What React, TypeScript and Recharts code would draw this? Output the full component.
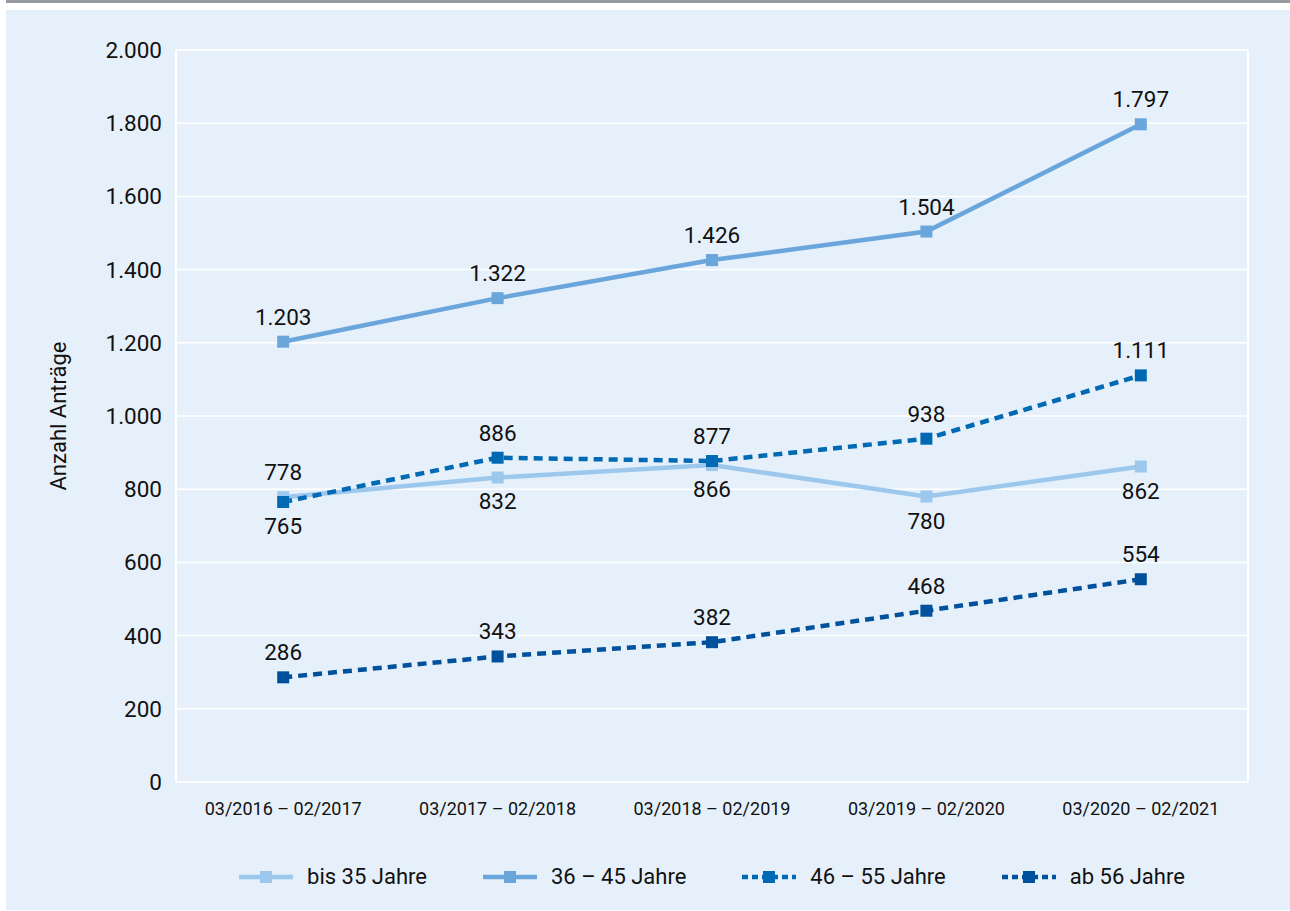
import React from 'react';
import { LineChart, Line, XAxis, YAxis, CartesianGrid, Legend, LabelList } from 'recharts';

const periods = ['03/2016 – 02/2017', '03/2017 – 02/2018', '03/2018 – 02/2019', '03/2019 – 02/2020', '03/2020 – 02/2021'];
const bis35 = [778, 832, 866, 780, 862];
const age36to45 = [1203, 1322, 1426, 1504, 1797];
const age46to55 = [765, 886, 877, 938, 1111];
const ab56 = [286, 343, 382, 468, 554];
const yTicks = [0, 200, 400, 600, 800, 1000, 1200, 1400, 1600, 1800, 2000];

// which value labels sit under their point
const bis35Below = [false, true, true, true, true];
const age46to55Below = [true, false, false, false, false];

const data = periods.map((p, i) => ({
  period: p,
  bis35: bis35[i],
  a3645: age36to45[i],
  a4655: age46to55[i],
  ab56: ab56[i],
}));

const series = [
  { key: 'bis35', name: 'bis 35 Jahre', color: '#9cc8ed', dashed: false, below: bis35Below },
  { key: 'a3645', name: '36 – 45 Jahre', color: '#6aa5dc', dashed: false, below: null },
  { key: 'a4655', name: '46 – 55 Jahre', color: '#0069b4', dashed: true, below: age46to55Below },
  { key: 'ab56', name: 'ab 56 Jahre', color: '#00519b', dashed: true, below: null },
];

const FONT = '"Liberation Sans Narrow", "Roboto", sans-serif';
const TEXT = '#111';
const fmt = (v: number) => String(v).replace(/\B(?=(\d{3})+(?!\d))/g, '.');

const squareDot = (color: string) => (props: any) => {
  const { cx, cy, index } = props;
  if (cx == null || cy == null) return <g key={index} />;
  return <rect key={index} x={cx - 6} y={cy - 6} width={12} height={12} fill={color} />;
};

const valueLabel = (below: boolean[] | null) => (props: any) => {
  const { x, y, value, index } = props;
  const under = below ? below[index] : false;
  return (
    <text
      x={x}
      y={under ? y + 32 : y - 17}
      textAnchor="middle"
      fontSize={22.5}
      fontFamily={FONT}
      fill={TEXT}
    >
      {fmt(value)}
    </text>
  );
};

function LegendContent() {
  return (
    <div style={{ display: 'flex', justifyContent: 'center', alignItems: 'center', gap: 56, fontFamily: FONT }}>
      {series.map((s) => (
        <div key={s.key} style={{ display: 'flex', alignItems: 'center' }}>
          <svg width={54} height={20}>
            <line
              x1={0}
              x2={54}
              y1={10}
              y2={10}
              stroke={s.color}
              strokeWidth={4.5}
              strokeDasharray={s.dashed ? '6 4' : undefined}
              strokeLinecap={s.dashed ? 'butt' : 'round'}
            />
            <rect x={21} y={4} width={12} height={12} fill={s.color} />
          </svg>
          <span style={{ marginLeft: 14, fontSize: 22, color: TEXT }}>{s.name}</span>
        </div>
      ))}
    </div>
  );
}

export default function App() {
  return (
    <div style={{ position: 'absolute', left: 0, top: 0, width: 1290, height: 911, background: '#fff' }}>
      <div style={{ position: 'absolute', left: 6, top: 0, width: 1284, height: 3, background: '#979ca2' }} />
      <div style={{ position: 'absolute', left: 6, top: 10, width: 1284, height: 900, background: '#e6f0fa' }}>
        <LineChart
          width={1284}
          height={900}
          data={data}
          margin={{ top: 40, right: 41, bottom: 78, left: 20 }}
          style={{ fontFamily: FONT }}
        >
          <CartesianGrid vertical={false} stroke="#ffffff" strokeWidth={1.5} />
          <XAxis
            dataKey="period"
            scale="band"
            height={50}
            axisLine={false}
            tickLine={false}
            tickMargin={14}
            tick={{ fontSize: 18, fill: TEXT, fontFamily: FONT }}
          />
          <YAxis
            width={150}
            domain={[0, 2000]}
            ticks={yTicks}
            tickFormatter={fmt}
            axisLine={{ stroke: '#ffffff', strokeWidth: 2 }}
            tickLine={false}
            tickMargin={8}
            tick={{ fontSize: 22.5, fill: TEXT, fontFamily: FONT }}
            label={{
              value: 'Anzahl Anträge',
              angle: -90,
              position: 'insideLeft',
              offset: 32,
              style: { textAnchor: 'middle', fontSize: 22, fill: TEXT, fontFamily: FONT },
            }}
          />
          <YAxis
            yAxisId="right"
            orientation="right"
            width={1}
            domain={[0, 2000]}
            tick={false}
            tickLine={false}
            axisLine={{ stroke: '#ffffff', strokeWidth: 2 }}
          />
          <Legend
            verticalAlign="middle"
            align="center"
            layout="horizontal"
            wrapperStyle={{ top: 854, left: 170, width: 1072, height: 30 }}
            content={<LegendContent />}
          />
          {series.map((s) => (
            <Line
              key={s.key}
              dataKey={s.key}
              name={s.name}
              stroke={s.color}
              strokeWidth={4.5}
              strokeDasharray={s.dashed ? '9 6' : undefined}
              dot={squareDot(s.color)}
              activeDot={false}
              isAnimationActive={false}
            >
              <LabelList dataKey={s.key} content={valueLabel(s.below)} />
            </Line>
          ))}
        </LineChart>
      </div>
    </div>
  );
}
